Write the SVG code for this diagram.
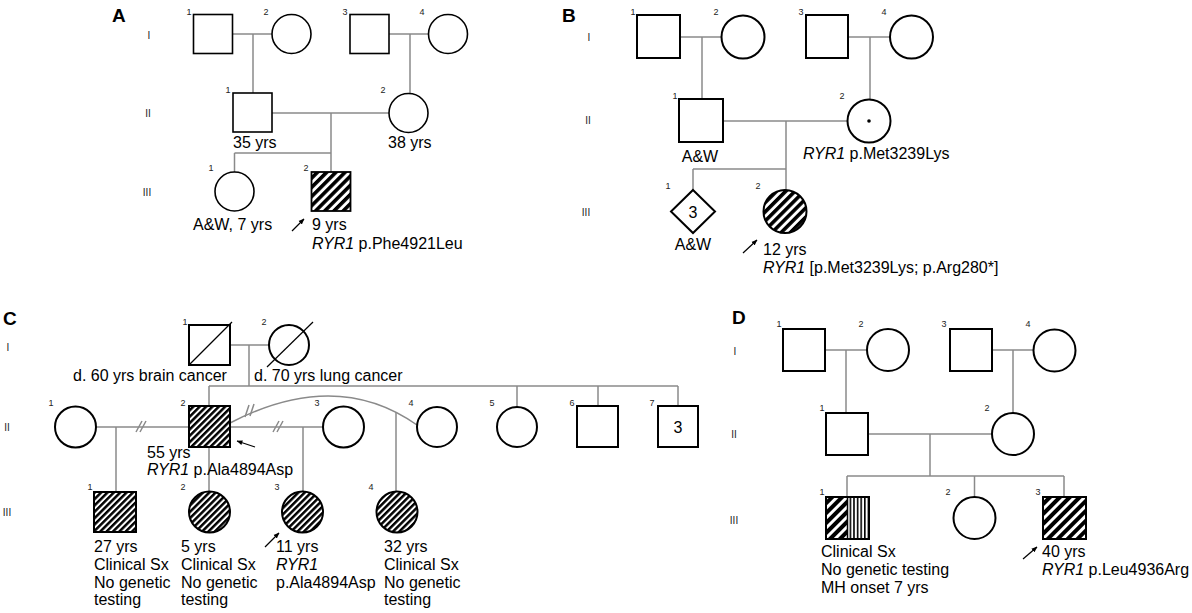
<svg xmlns="http://www.w3.org/2000/svg" width="1192" height="613" viewBox="0 0 1192 613">
<style>
text{font-family:"Liberation Sans",Arial,sans-serif;fill:#000}
.t{font-size:16px}
.n{font-size:9px;text-anchor:middle;fill:#222}
.g{font-size:10px;text-anchor:middle;fill:#222}
.p{font-size:19px;font-weight:bold}
.s{fill:#fff;stroke:#000;stroke-width:1.6}
.sb{fill:#fff;stroke:#000;stroke-width:2}
.h{fill:url(#hatch);stroke:#000;stroke-width:2}
.hf{fill:url(#hatchF);stroke:#000;stroke-width:2}
.l{fill:none;stroke:#8a8a8a;stroke-width:1.5}
.k{fill:none;stroke:#000;stroke-width:1.2}
.ar{stroke:#000;stroke-width:1.2;marker-end:url(#ah)}
</style>
<defs>
<pattern id="hatch" patternUnits="userSpaceOnUse" width="6.5" height="6.5" patternTransform="rotate(45)">
<rect width="6.5" height="6.5" fill="#fff"/><rect width="3.6" height="6.5" fill="#000"/>
</pattern>
<pattern id="hatchD" patternUnits="userSpaceOnUse" width="7" height="7" patternTransform="rotate(45)">
<rect width="7" height="7" fill="#fff"/><rect width="4" height="7" fill="#000"/>
</pattern>
<pattern id="hatchF" patternUnits="userSpaceOnUse" width="4.5" height="4.5" patternTransform="rotate(45)">
<rect width="4.5" height="4.5" fill="#fff"/><rect width="2.5" height="4.5" fill="#000"/>
</pattern>
<pattern id="vert" patternUnits="userSpaceOnUse" width="3.6" height="4">
<rect width="3.6" height="4" fill="#fff"/><rect width="1.6" height="4" fill="#000"/>
</pattern>
<marker id="ah" viewBox="0 0 10 10" refX="9" refY="5" markerWidth="6" markerHeight="6" orient="auto" markerUnits="userSpaceOnUse">
<path d="M0,1 L10,5 L0,9 z" fill="#000"/>
</marker>
</defs>
<rect width="1192" height="613" fill="#fff"/>

<!-- Panel labels and generation numerals -->
<g id="labels">
<text class="p" x="112" y="22">A</text>
<text class="g" x="149" y="39">I</text>
<text class="g" x="148" y="117">II</text>
<text class="g" x="147" y="196">III</text>
<text class="p" x="562" y="22">B</text>
<text class="g" x="589" y="41">I</text>
<text class="g" x="588" y="124">II</text>
<text class="g" x="586" y="216">III</text>
<text class="p" x="3" y="325">C</text>
<text class="g" x="8" y="351">I</text>
<text class="g" x="7" y="431">II</text>
<text class="g" x="7" y="516">III</text>
<text class="p" x="732" y="324">D</text>
<text class="g" x="735" y="355">I</text>
<text class="g" x="734" y="438">II</text>
<text class="g" x="734" y="524">III</text>
</g>

<!-- Connectors -->
<g id="connectors">
<!-- A -->
<path class="l" d="M233,34 H272 M253,34 V93 M389,34 H428.5 M410,34 V93.5 M272,113 H389 M331,113 V153 M234.5,153 H331 M234.5,153 V172 M331,153 V172"/>
<!-- B -->
<path class="l" d="M680,37 H722 M702,37 V99 M848,37 H890 M870,37 V99.5 M723,121 H847.5 M786,121 V169 M693,169 H786 M693,169 V190 M786,169 V190"/>
<!-- C -->
<path class="l" d="M230,345 H269 M249,345 V386 M209,386 H678 M209,386 V406 M517,386 V407 M598,386 V406 M678,386 V406"/>
<path class="l" d="M96,427 H189 M116,427 V492 M230,427 H323 M303,427 V491.5 M209,447 V491.5 M396,412 V491.5"/>
<path class="l" d="M230,423 Q336,368 417,425"/>
<path class="l" d="M136,432 L142,421 M140,432 L146,421 M273,432 L279,421 M277,432 L283,421 M245,417 L249,405 M250,416 L254,404"/>
<!-- D -->
<path class="l" d="M825,350 H867 M846,350 V413 M992,350 H1033.5 M1013,350 V413 M868,434 H992 M930,434 V476 M847,476 H1064 M847,476 V497 M974.5,476 V497 M1064,476 V497"/>
<!-- proband arrows -->
<line class="ar" x1="292" y1="231" x2="304" y2="219"/>
<line class="ar" x1="743" y1="253" x2="757" y2="240"/>
<line class="ar" x1="255" y1="447" x2="237" y2="441"/>
<line class="ar" x1="265" y1="547" x2="279" y2="533"/>
<line class="ar" x1="1023" y1="559" x2="1037" y2="547"/>
</g>

<!-- Panel A nodes -->
<g id="A-I-1"><rect class="s" x="193.5" y="14.5" width="39" height="39"/><text class="n" x="189" y="15">1</text></g>
<g id="A-I-2"><circle class="s" cx="291.5" cy="34" r="19.5"/><text class="n" x="266" y="15">2</text></g>
<g id="A-I-3"><rect class="s" x="350" y="14.5" width="39" height="39"/><text class="n" x="345" y="15">3</text></g>
<g id="A-I-4"><circle class="s" cx="448" cy="34" r="19.5"/><text class="n" x="422" y="15">4</text></g>
<g id="A-II-1"><rect class="s" x="233" y="93" width="39" height="39"/><text class="n" x="228" y="93">1</text><text class="t" x="233" y="148">35 yrs</text></g>
<g id="A-II-2"><circle class="s" cx="408.5" cy="113" r="19.5"/><text class="n" x="383" y="93">2</text><text class="t" x="388" y="148">38 yrs</text></g>
<g id="A-III-1"><circle class="s" cx="234.5" cy="191.5" r="19.5"/><text class="n" x="211" y="171">1</text><text class="t" x="193" y="230">A&amp;W, 7 yrs</text></g>
<g id="A-III-2"><rect class="h" x="311.5" y="172" width="39" height="39" style="stroke-width:1.8"/><text class="n" x="306" y="171">2</text><text class="t" x="312" y="230">9 yrs</text><text class="t" x="312" y="249"><tspan font-style="italic">RYR1</tspan> p.Phe4921Leu</text></g>

<!-- Panel B nodes -->
<g id="B-I-1"><rect class="sb" x="637" y="15" width="43" height="43"/><text class="n" x="633" y="15">1</text></g>
<g id="B-I-2"><circle class="sb" cx="743" cy="37" r="21.5"/><text class="n" x="716" y="15">2</text></g>
<g id="B-I-3"><rect class="sb" x="806" y="15" width="42" height="43"/><text class="n" x="801" y="15">3</text></g>
<g id="B-I-4"><circle class="sb" cx="911.5" cy="37" r="21.5"/><text class="n" x="884" y="15">4</text></g>
<g id="B-II-1"><rect class="sb" x="679" y="99" width="44" height="43"/><text class="n" x="675" y="99">1</text><text class="t" x="700" y="162" text-anchor="middle">A&amp;W</text></g>
<g id="B-II-2"><circle class="sb" cx="869" cy="121" r="21.5"/><circle cx="869" cy="121" r="1.8" fill="#000"/><text class="n" x="842" y="99">2</text><text class="t" x="803" y="159"><tspan font-style="italic">RYR1</tspan> p.Met3239Lys</text></g>
<g id="B-III-1"><polygon class="sb" points="693,190 715,211.5 693,233 671,211.5"/><text class="t" x="693" y="217.5" text-anchor="middle">3</text><text class="n" x="668" y="189">1</text><text class="t" x="693" y="250" text-anchor="middle">A&amp;W</text></g>
<g id="B-III-2"><circle class="h" cx="785" cy="211.5" r="21.5"/><text class="n" x="758" y="189">2</text><text class="t" x="763" y="255">12 yrs</text><text class="t" x="763" y="273"><tspan font-style="italic">RYR1</tspan> [p.Met3239Lys; p.Arg280*]</text></g>

<!-- Panel C nodes -->
<g id="C-I-1"><rect class="sb" x="189" y="325" width="41" height="40"/><line class="k" x1="189" y1="365" x2="232" y2="322"/><text class="n" x="185" y="325">1</text><text class="t" x="73" y="381">d. 60 yrs brain cancer</text></g>
<g id="C-I-2"><circle class="sb" cx="289" cy="345" r="20"/><line class="k" x1="267" y1="367" x2="313" y2="322"/><text class="n" x="264" y="325">2</text><text class="t" x="254" y="381">d. 70 yrs lung cancer</text></g>
<g id="C-II-1"><circle class="sb" cx="75.5" cy="427" r="20.5"/><text class="n" x="51" y="406">1</text></g>
<g id="C-II-2"><rect class="hf" x="189" y="406" width="41" height="41"/><text class="n" x="183" y="406">2</text><text class="t" x="147" y="458">55 yrs</text><text class="t" x="147" y="475"><tspan font-style="italic">RYR1</tspan> p.Ala4894Asp</text></g>
<g id="C-II-3"><circle class="sb" cx="343.5" cy="427" r="20.5"/><text class="n" x="317" y="406">3</text></g>
<g id="C-II-4"><circle class="sb" cx="437" cy="427" r="20"/><text class="n" x="411" y="406">4</text></g>
<g id="C-II-5"><circle class="sb" cx="517" cy="427" r="20"/><text class="n" x="492" y="406">5</text></g>
<g id="C-II-6"><rect class="sb" x="577" y="406" width="41" height="41"/><text class="n" x="572" y="406">6</text></g>
<g id="C-II-7"><rect class="sb" x="658" y="406" width="40" height="41"/><text class="t" x="678" y="433" text-anchor="middle">3</text><text class="n" x="652" y="406">7</text></g>
<g id="C-III-1"><rect class="hf" x="94" y="492" width="42" height="40"/><text class="n" x="90" y="490">1</text>
<text class="t" x="94" y="552">27 yrs</text><text class="t" x="94" y="570">Clinical Sx</text><text class="t" x="94" y="588">No genetic</text><text class="t" x="94" y="605">testing</text></g>
<g id="C-III-2"><circle class="hf" cx="209.5" cy="512" r="20.5"/><text class="n" x="183" y="490">2</text>
<text class="t" x="181" y="552">5 yrs</text><text class="t" x="181" y="570">Clinical Sx</text><text class="t" x="181" y="588">No genetic</text><text class="t" x="181" y="605">testing</text></g>
<g id="C-III-3"><circle class="hf" cx="302.5" cy="512" r="20.5"/><text class="n" x="277" y="490">3</text>
<text class="t" x="276" y="552">11 yrs</text><text class="t" x="276" y="570" font-style="italic">RYR1</text><text class="t" x="276" y="588">p.Ala4894Asp</text></g>
<g id="C-III-4"><circle class="hf" cx="397" cy="512" r="20.5"/><text class="n" x="371" y="490">4</text>
<text class="t" x="384" y="552">32 yrs</text><text class="t" x="384" y="570">Clinical Sx</text><text class="t" x="384" y="588">No genetic</text><text class="t" x="384" y="605">testing</text></g>

<!-- Panel D nodes -->
<g id="D-I-1"><rect class="sb" x="783" y="329" width="42" height="42"/><text class="n" x="779" y="327">1</text></g>
<g id="D-I-2"><circle class="sb" cx="888" cy="350" r="21"/><text class="n" x="861" y="327">2</text></g>
<g id="D-I-3"><rect class="sb" x="950" y="329" width="42" height="42"/><text class="n" x="944" y="327">3</text></g>
<g id="D-I-4"><circle class="sb" cx="1054.5" cy="350.5" r="21"/><text class="n" x="1028" y="327">4</text></g>
<g id="D-II-1"><rect class="sb" x="826" y="413" width="42" height="42"/><text class="n" x="822" y="411">1</text></g>
<g id="D-II-2"><circle class="sb" cx="1013" cy="434" r="21"/><text class="n" x="987" y="411">2</text></g>
<g id="D-III-1"><rect x="826" y="497" width="21.5" height="42" fill="url(#hatchD)"/><rect x="847.5" y="497" width="21.5" height="42" fill="url(#vert)"/><rect x="826" y="497" width="43" height="42" fill="none" stroke="#000" stroke-width="2"/><line x1="847.5" y1="497" x2="847.5" y2="539" stroke="#000" stroke-width="1.5"/><text class="n" x="822" y="495">1</text>
<text class="t" x="821" y="557">Clinical Sx</text><text class="t" x="821" y="575">No genetic testing</text><text class="t" x="821" y="593">MH onset 7 yrs</text></g>
<g id="D-III-2"><circle class="sb" cx="974.5" cy="518" r="21"/><text class="n" x="948" y="495">2</text></g>
<g id="D-III-3"><rect x="1043" y="497" width="43" height="42" fill="url(#hatchD)" stroke="#000" stroke-width="2"/><text class="n" x="1038" y="495">3</text>
<text class="t" x="1042" y="557">40 yrs</text><text class="t" x="1042" y="575"><tspan font-style="italic">RYR1</tspan> p.Leu4936Arg</text></g>
</svg>
